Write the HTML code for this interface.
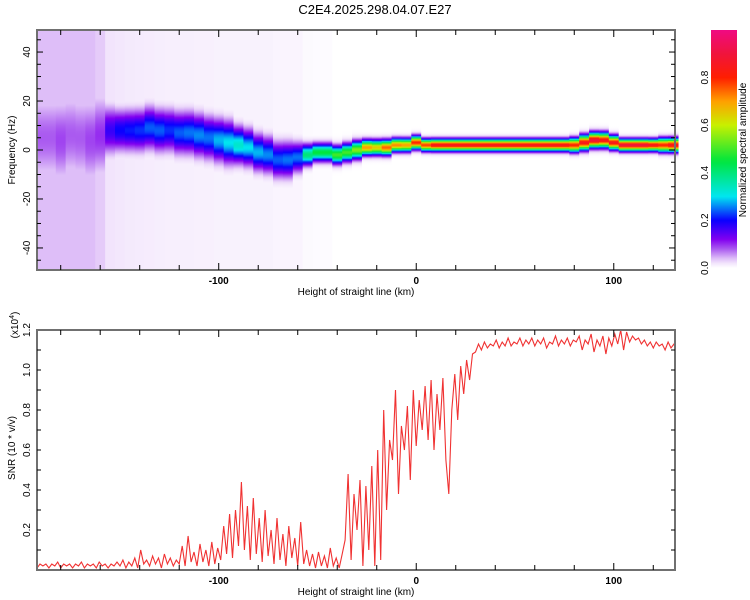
<!DOCTYPE html>
<html><head><meta charset="utf-8"><style>
html,body{margin:0;padding:0;background:#fff;width:750px;height:600px;overflow:hidden}
svg text{font-family:"Liberation Sans",sans-serif;fill:#000}
</style></head><body>
<svg id="c" width="750" height="600" xmlns="http://www.w3.org/2000/svg">
<text x="375" y="14" font-size="13" text-anchor="middle">C2E4.2025.298.04.07.E27</text>
<defs id="defs"><clipPath id="clipB"><rect x="37" y="330" width="638" height="240"/></clipPath></defs>
<g id="heat"></g>
<g id="snr"></g>
<g id="cbar"></g>
</svg>
<script>
// Spectrogram data (5 km columns)
const hHeights=[-190,-185,-180,-175,-170,-165,-160,-155,-150,-145,-140,-135,-130,-125,-120,-115,-110,-105,-100,-95,-90,-85,-80,-75,-70,-65,-60,-55,-50,-45,-40,-35,-30,-25,-20,-15,-10,-5,0,5,10,15,20,25,30,35,40,45,50,55,60,65,70,75,80,85,90,95,100,105,110,115,120,125,130];
const ridgeFreq=[5,5,4,6,5,4,6,8,8,8,8,9,8,8,7,7,6,5,4,3,2,1,-1,-2,-4,-4,-3,-2,-1,-1,-2,-1,0,1,1,1,2,2,3,2,2,2,2,2,2,2,2,2,2,2,2,2,2,2,2,3,4,4,3,2,2,2,2,2,2];
const ridgeAmp=[0.08,0.08,0.09,0.08,0.08,0.09,0.1,0.17,0.2,0.21,0.22,0.24,0.24,0.22,0.24,0.25,0.26,0.25,0.28,0.3,0.33,0.3,0.28,0.26,0.24,0.25,0.25,0.4,0.45,0.45,0.5,0.5,0.55,0.7,0.65,0.75,0.72,0.7,0.8,0.78,0.85,0.85,0.85,0.85,0.85,0.85,0.85,0.85,0.85,0.85,0.85,0.85,0.85,0.85,0.8,0.85,0.9,0.85,0.85,0.9,0.9,0.9,0.85,0.8,0.85];
const ridgeWidth=[15,15,15,15,15,15,14,8,7,7,7,7,7,7,7,7,7,7,7,7,6,6,6,6,6,6,5,3.5,3,3,3,3,3,2.5,2.5,2.5,2.2,2.2,2.2,2,2,2,2,2,2,2,2,2,2,2,2,2,2,2,2.3,2.5,2.5,2.5,2.3,2,2,2,2,2.3,2.3];
const bgNoise=[0.04,0.04,0.04,0.04,0.04,0.04,0.035,0.02,0.018,0.016,0.015,0.014,0.013,0.012,0.012,0.012,0.011,0.011,0.01,0.01,0.01,0.01,0.01,0.01,0.008,0.008,0.008,0.004,0.003,0.003,0,0,0,0,0,0,0,0,0,0,0,0,0,0,0,0,0,0,0,0,0,0,0,0,0,0,0,0,0,0,0,0,0,0,0];
// SNR data (1.5 km steps, units x10^4)
const snrStart=-192, snrStep=1.5;
const snrValues=[0.01,0.03,0.02,0.03,0.01,0.03,0.02,0.04,0.01,0.03,0.02,0.03,0.01,0.03,0.02,0.04,0.01,0.03,0.02,0.03,0.01,0.04,0.02,0.03,0.01,0.03,0.02,0.04,
0.02,0.05,0.01,0.04,0.02,0.06,0.01,0.10,0.03,0.05,0.02,0.07,0.03,0.06,0.01,0.08,0.03,0.06,0.02,0.05,
0.03,0.12,0.02,0.17,0.04,0.09,0.02,0.13,0.04,0.10,0.02,0.14,0.03,0.11,
0.05,0.22,0.08,0.28,0.06,0.30,0.12,0.44,0.10,0.32,0.05,0.36,0.08,0.26,
0.04,0.30,0.07,0.20,0.03,0.26,0.05,0.18,0.02,0.22,0.06,0.16,0.02,0.24,
0.03,0.10,0.02,0.08,0.01,0.09,0.02,0.07,0.01,0.11,0.02,0.06,0.01,0.08,
0.15,0.48,0.05,0.38,0.20,0.45,0.02,0.42,0.10,0.52,
0.02,0.60,0.05,0.80,0.30,0.65,0.55,0.90,0.38,0.72,
0.60,0.82,0.45,0.90,0.62,0.85,0.70,0.92,0.65,0.95,0.60,0.88,0.70,0.96,
0.55,0.38,0.80,0.98,0.75,1.02,0.88,1.05,0.95,1.08,
1.09,1.13,1.10,1.14,1.11,1.13,1.12,1.15,1.11,1.14,1.12,1.16,1.12,1.14,1.13,1.16,1.12,1.15,1.13,1.16,1.12,1.15,1.13,1.16,1.11,1.14,1.13,1.17,1.12,1.15,1.13,1.16,1.12,1.15,1.14,1.17,1.10,1.15,1.13,1.18,1.09,1.15,1.12,1.17,1.08,1.16,1.12,1.18,1.13,1.20,1.10,1.19,1.14,1.17,1.15,1.16,1.13,1.15,1.12,1.14,1.11,1.14,1.12,1.13,1.10,1.14,1.11,1.13,1.09,1.12];
const cbTicks=[0.0,0.2,0.4,0.6,0.8];
const xTicks=[-100,0,100];
const fTicks=[-40,-20,0,20,40];
const sTicks=[0.2,0.4,0.6,0.8,1.0,1.2];

const NS='http://www.w3.org/2000/svg';
function mk(tag,attrs,parent){const e=document.createElementNS(NS,tag);for(const k in attrs)e.setAttribute(k,attrs[k]);parent.appendChild(e);return e;}
const X0=37,X1=675, xMin=-192, xMax=131;
const xs=v=>X0+(v-xMin)/(xMax-xMin)*(X1-X0);
const T0=30,T1=270,fMin=-49,fMax=49;
const fy=v=>T1-(v-fMin)/(fMax-fMin)*(T1-T0);
const B0=330,B1=570;
const sy=v=>B1-v/1.2*(B1-B0);
const cmap=[[0,[255,255,255]],[0.03,[235,215,250]],[0.08,[170,90,240]],[0.12,[130,0,240]],[0.2,[10,0,255]],[0.3,[0,230,240]],[0.45,[0,230,60]],[0.6,[200,240,0]],[0.7,[255,160,0]],[0.8,[255,30,0]],[0.9,[240,20,60]],[1,[240,10,130]]];
function col(v){v=Math.max(0,Math.min(1,v));for(let i=1;i<cmap.length;i++){if(v<=cmap[i][0]){const a=cmap[i-1],b=cmap[i],t=(v-a[0])/(b[0]-a[0]);const c=a[1].map((q,j)=>Math.round(q+(b[1][j]-q)*t));return`rgb(${c})`;}}return'rgb(240,10,130)';}

const defs=document.getElementById('defs');
const heat=document.getElementById('heat');
const cw=xs(5)-xs(0);
const NST=200;
hHeights.forEach((h,i)=>{
  const g=mk('linearGradient',{id:'g'+i,gradientUnits:'userSpaceOnUse',x1:0,y1:T0,x2:0,y2:T1},defs);
  for(let k=0;k<=NST;k++){const f=fMax-(fMax-fMin)*k/NST;const d=(f-ridgeFreq[i])/ridgeWidth[i];
    const v=Math.max(bgNoise[i],ridgeAmp[i]*Math.exp(-d*d*0.9));
    mk('stop',{offset:(k/NST).toFixed(4),'stop-color':col(v)},g);}
  const r=mk('rect',{x:xs(h)-cw/2,y:T0,width:cw+0.6,height:T1-T0,fill:`url(#g${i})`},heat);
  
  
});
function frame(parent,y0,y1,name){
  mk('rect',{x:X0,y:y0,width:X1-X0,height:y1-y0,fill:'none',stroke:'#707070','stroke-width':2,},parent);
  for(let v=-180;v<=120;v+=20){const x=xs(v);const L=(v%100===0)?7:5;
    mk('line',{x1:x,x2:x,y1:y0,y2:y0+L,stroke:'#000'},parent);mk('line',{x1:x,x2:x,y1:y1,y2:y1-L,stroke:'#000'},parent);}
  xTicks.forEach(v=>{const t=mk('text',{x:xs(v),y:y1+14,'font-size':10,'text-anchor':'middle','font-weight':'bold'},parent);t.textContent=v;
    });
  const xt=mk('text',{x:356,y:y1+25,'font-size':10,'text-anchor':'middle',},parent);xt.textContent='Height of straight line (km)';
}
frame(heat,T0,T1,'spectrogram');
for(let v=-45;v<=45;v+=5){const y=fy(v);const L=v%20===0?6:4;mk('line',{x1:X0,x2:X0+L,y1:y,y2:y,stroke:'#000'},heat);mk('line',{x1:X1,x2:X1-L,y1:y,y2:y,stroke:'#000'},heat);}
fTicks.forEach(v=>{const t=mk('text',{transform:`translate(30,${fy(v)}) rotate(-90)`,'font-size':10,'text-anchor':'middle'},heat);t.textContent=v;
  });
const yt=mk('text',{transform:'translate(15,150) rotate(-90)','font-size':10,'text-anchor':'middle',},heat);yt.textContent='Frequency (Hz)';

// SNR
const snr=document.getElementById('snr');
let d='';snrValues.forEach((v,i)=>{const x=xs(snrStart+i*snrStep);d+=(i?'L':'M')+x.toFixed(1)+','+sy(v).toFixed(1);});
mk('path',{d:d,fill:'none',stroke:'#f03232','stroke-width':1.1,'clip-path':'url(#clipB)',},snr);
frame(snr,B0,B1,'snr');
for(let v=0.1;v<1.2;v+=0.1){const y=sy(v);mk('line',{x1:X0,x2:X0+4,y1:y,y2:y,stroke:'#000'},snr);mk('line',{x1:X1,x2:X1-4,y1:y,y2:y,stroke:'#000'},snr);}
sTicks.forEach(v=>{const t=mk('text',{transform:`translate(30,${sy(v)}) rotate(-90)`,'font-size':10,'text-anchor':'middle'},snr);t.textContent=v.toFixed(1);
  });
const st=mk('text',{transform:'translate(15,448) rotate(-90)','font-size':10,'text-anchor':'middle',},snr);st.textContent='SNR (10 * v/v)';
const ex=mk('text',{transform:'translate(18,325) rotate(-90)','font-size':10,'text-anchor':'middle',},snr);ex.innerHTML='(x10<tspan dy="-4" font-size="7">4</tspan><tspan dy="4">)</tspan>';

// Colorbar
const cb=document.getElementById('cbar');
const cg=mk('linearGradient',{id:'cbg',x1:0,y1:1,x2:0,y2:0},defs);
for(let k=0;k<=50;k++)mk('stop',{offset:k/50,'stop-color':col(k/50)},cg);
const CB0=30,CB1=268;const cby=v=>CB1-v*(CB1-CB0);
mk('rect',{x:711,y:CB0,width:26,height:CB1-CB0,fill:'url(#cbg)',},cb);
cbTicks.forEach(v=>{const t=mk('text',{transform:`translate(708,${cby(v)}) rotate(-90)`,'font-size':10,'text-anchor':'middle'},cb);t.textContent=v.toFixed(1);
  });
const ct=mk('text',{transform:'translate(746,150) rotate(-90)','font-size':10,'text-anchor':'middle',},cb);ct.textContent='Normalized spectral amplitude';
</script>
</body></html>
